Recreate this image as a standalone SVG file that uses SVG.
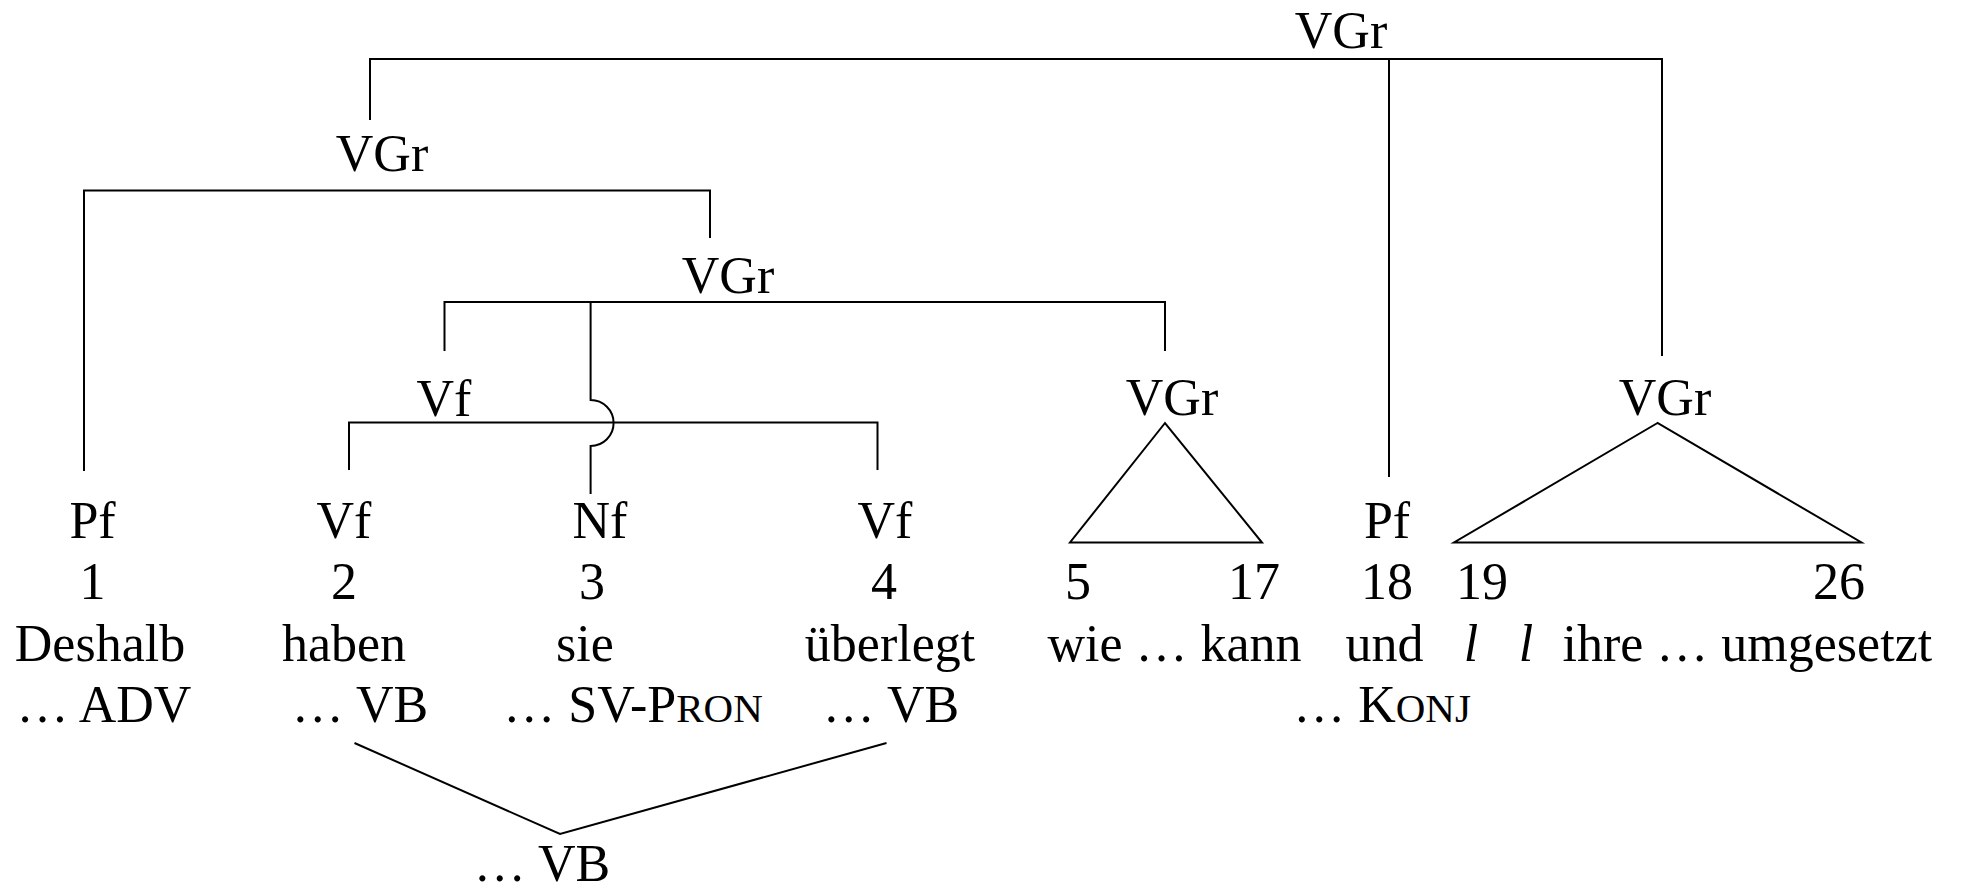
<svg xmlns="http://www.w3.org/2000/svg" width="1966" height="889" viewBox="0 0 1966 889">
<style>
text{font-family:"Liberation Serif","Times New Roman",serif;font-size:52px;fill:#000;text-anchor:middle}
.l{fill:none;stroke:#000;stroke-width:2}
.sc{font-size:41px}
.it{font-style:italic}
</style>
<rect width="1966" height="889" fill="#fff"/>
<g id="connectors">
<path class="l" d="M370,120 V59 H1662 V356 M1389,59 V477"/>
<path class="l" d="M84,471 V190.5 H710 V238"/>
<path class="l" d="M444.5,351 V302 H1165 V351 M590.6,302 V400 A23,23 0 0 1 590.6,446 V494"/>
<path class="l" d="M349,470 V422.5 H877.5 V470"/>
<path class="l" d="M354.5,743 L560,834 L886.5,743"/>
</g>
<g id="vgr-top"><text x="1341" y="48">VGr</text></g>
<g id="vgr-2"><text x="382" y="171">VGr</text></g>
<g id="vgr-3"><text x="728" y="293">VGr</text></g>
<g id="vf-mid"><text x="444" y="416">Vf</text></g>
<g id="vgr-5-17"><text x="1172" y="415">VGr</text><path class="l" d="M1165,423 L1070,542.5 H1262 Z"/></g>
<g id="vgr-19-26"><text x="1665" y="415">VGr</text><path class="l" d="M1657.5,423 L1454,542.5 H1861.5 Z"/></g>
<g id="n1"><text x="92.5" y="538">Pf</text><text x="92.5" y="599">1</text><text x="100" y="661">Deshalb</text><text x="104" y="722">… ADV</text></g>
<g id="n2"><text x="344" y="538">Vf</text><text x="344" y="599">2</text><text x="344" y="661">haben</text><text x="360" y="722">… VB</text></g>
<g id="n3"><text x="600" y="538">Nf</text><text x="592" y="599">3</text><text x="585" y="661">sie</text><text x="633" y="722">… SV-P<tspan class="sc">RON</tspan></text></g>
<g id="n4"><text x="885" y="538">Vf</text><text x="884" y="599">4</text><text x="890" y="661">überlegt</text><text x="891" y="722">… VB</text></g>
<g id="n5-17"><text x="1078" y="599">5</text><text x="1254" y="599">17</text><text x="1174.5" y="661">wie … kann</text></g>
<g id="n18"><text x="1387" y="538">Pf</text><text x="1387" y="599">18</text><text x="1384.5" y="661">und</text><text x="1382" y="722">… K<tspan class="sc">ONJ</tspan></text></g>
<g id="n19-26"><text x="1482" y="599">19</text><text x="1839" y="599">26</text><text class="it" x="1471" y="661">l</text><text class="it" x="1526" y="661">l</text><text x="1562.5" y="661" style="text-anchor:start">ihre … umgesetzt</text></g>
<g id="vb-bottom"><text x="542" y="881">… VB</text></g>
</svg>
